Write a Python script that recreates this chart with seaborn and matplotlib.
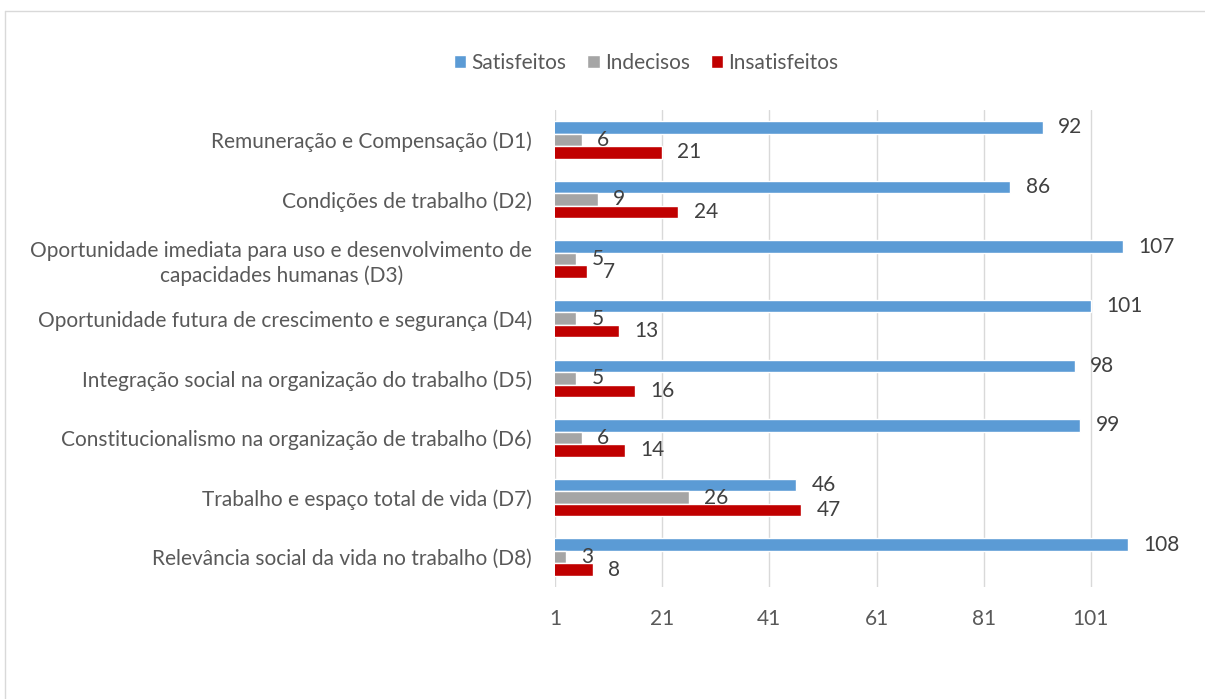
import matplotlib
matplotlib.use("Agg")
import matplotlib.pyplot as plt
from matplotlib.lines import Line2D
import seaborn as sns
import pandas as pd

categories = [
    "Remuneração e Compensação (D1)",
    "Condições de trabalho (D2)",
    "Oportunidade imediata para uso e desenvolvimento de\ncapacidades humanas (D3)",
    "Oportunidade futura de crescimento e segurança (D4)",
    "Integração social na organização do trabalho (D5)",
    "Constitucionalismo na organização de trabalho (D6)",
    "Trabalho e espaço total de vida (D7)",
    "Relevância social da vida no trabalho (D8)",
]
satisfeitos = [92, 86, 107, 101, 98, 99, 46, 108]
indecisos = [6, 9, 5, 5, 5, 6, 26, 3]
insatisfeitos = [21, 24, 7, 13, 16, 14, 47, 8]
series_names = ["Satisfeitos", "Indecisos", "Insatisfeitos"]
series_colors = ["#5B9BD5", "#A5A5A5", "#C00000"]
x_ticks = [1, 21, 41, 61, 81, 101]

rows = []
for name, vals in zip(series_names, [satisfeitos, indecisos, insatisfeitos]):
    for c, v in zip(categories, vals):
        rows.append({"categoria": c, "valor": v, "serie": name})
df = pd.DataFrame(rows)

sns.set_theme(style="white")
plt.rcParams["font.family"] = ["Lato", "DejaVu Sans"]

W, H = 1205, 699
fig = plt.figure(figsize=(W / 100, H / 100), dpi=100)
fig.patch.set_facecolor("white")
ax = fig.add_axes([555 / W, 1 - 587 / H, (1198 - 555) / W, (587 - 110) / H])

sns.barplot(data=df, y="categoria", x="valor", hue="serie", orient="h",
            palette=dict(zip(series_names, series_colors)), saturation=1,
            width=0.63, gap=0, ax=ax, order=categories, hue_order=series_names)

fs = 15
for cont in ax.containers:
    ax.bar_label(cont, padding=11, fontsize=fs, color="#404040")

ax.set_xlim(1, 121)
ax.set_ylim(7.5, -0.5)
ax.set_xticks(x_ticks)
ax.set_xticklabels([str(t) for t in x_ticks])
ax.set_xlabel("")
ax.set_ylabel("")
for s in ax.spines.values():
    s.set_visible(False)
ax.xaxis.grid(True, color="#D9D9D9", linewidth=1)
ax.yaxis.grid(False)
ax.set_axisbelow(True)
ax.tick_params(axis="y", length=0, pad=16.5, labelsize=fs, labelcolor="#595959")
ax.tick_params(axis="x", length=0, pad=16, labelsize=fs, labelcolor="#595959")
for lbl in ax.get_yticklabels():
    lbl.set_multialignment("center")
    lbl.set_linespacing(1.25)

handles, labels = ax.get_legend_handles_labels()
if ax.get_legend() is not None:
    ax.get_legend().remove()
fig.legend(handles, labels, loc="center", bbox_to_anchor=(646 / W, 1 - 63 / H),
           ncol=3, frameon=False, fontsize=fs, handlelength=0.6, handleheight=0.6,
           handletextpad=0.25, columnspacing=1.0, labelcolor="#595959")

# chart frame (partially cropped in the reference)
fig.add_artist(Line2D([4.5 / W, 1], [1 - 10.5 / H, 1 - 10.5 / H], transform=fig.transFigure,
                      color="#D9D9D9", linewidth=1))
fig.add_artist(Line2D([4.5 / W, 4.5 / W], [0, 1 - 10.5 / H], transform=fig.transFigure,
                      color="#D9D9D9", linewidth=1))

fig.savefig("out.png", dpi=100, facecolor="white")
